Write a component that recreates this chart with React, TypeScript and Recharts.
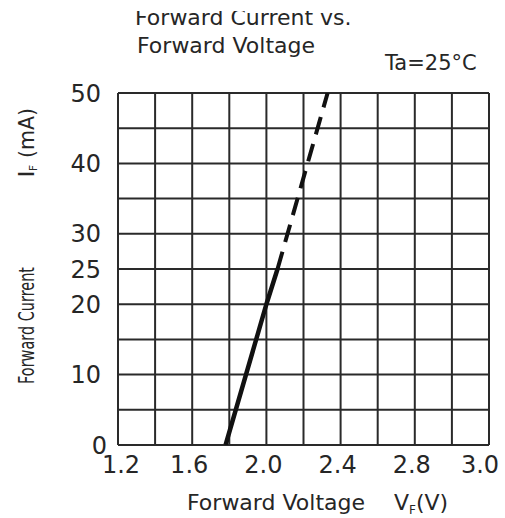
import React from "react";
import { LineChart, Line, XAxis, YAxis, CartesianGrid, Customized } from "recharts";

// Measured curve: solid part (rated range) and dashed extension
const solidVoltage = [1.78, 2.0, 2.06];
const solidCurrent = [0, 20, 25];
const dashedVoltage = [2.06, 2.33];
const dashedCurrent = [25, 50];

// Axis ticks and labels (the datasheet labels the last gridline "3.0")
const xTicks = [1.2, 1.6, 2.0, 2.4, 2.8, 3.2];
const xTickLabels = ["1.2", "1.6", "2.0", "2.4", "2.8", "3.0"];
const yTicks = [0, 10, 20, 25, 30, 40, 50];
const xGrid = [1.2, 1.4, 1.6, 1.8, 2.0, 2.2, 2.4, 2.6, 2.8, 3.0, 3.2];
const yGrid = [0, 5, 10, 15, 20, 25, 30, 35, 40, 45, 50];

const titleLine1 = "Forward Current vs.";
const titleLine2 = "Forward Voltage";
const condition = "Ta=25°C";

const solidData = solidVoltage.map((v, k) => ({ v, i: solidCurrent[k] }));
const dashedData = dashedVoltage.map((v, k) => ({ v, i: dashedCurrent[k] }));

const FONT = "DejaVu Sans";
const INK = "#262626";

const XTick = (props: any) => {
  const { x, y, index } = props;
  const last = xTicks.length - 1;
  const shift = index === 0 ? 3 : index === last ? -9 : -3;
  return (
    <text x={x + shift} y={y} dy="0.72em" textAnchor="middle" fontFamily={FONT} fontSize={24} fill={INK}>
      {xTickLabels[index]}
    </text>
  );
};

const YTick = (props: any) => {
  const { x, y, payload } = props;
  const shift = payload.value === 0 ? 6 : 0;
  return (
    <text x={x + shift} y={y} dy="0.36em" textAnchor="end" fontFamily={FONT} fontSize={24} fill={INK}>
      {String(payload.value)}
    </text>
  );
};

const Annotations = () => (
  <g fontFamily={FONT} fill={INK}>
    <text x={135} y={25} fontSize={22}>{titleLine1}</text>
    <rect x={0} y={0} width={505} height={11} fill="#ffffff" />
    <text x={137} y={53} fontSize={22}>{titleLine2}</text>
    <text x={385} y={70} fontSize={21}>{condition}</text>
    <text x={187} y={510} fontSize={22}>
      Forward Voltage
      <tspan x={394}>V</tspan>
      <tspan fontSize={12} dy={4}>F</tspan>
      <tspan fontSize={22} dy={-4}>(V)</tspan>
    </text>
    <g transform="translate(34,0) rotate(-90)">
      <text x={-384} y={0} fontSize={21} textLength={117} lengthAdjust="spacingAndGlyphs">Forward Current</text>
      <text x={-178} y={0} fontSize={21} textLength={8} lengthAdjust="spacingAndGlyphs">I</text>
      <text x={-171} y={3} fontSize={11} textLength={6} lengthAdjust="spacingAndGlyphs">F</text>
      <text x={-158} y={0} fontSize={21} textLength={50} lengthAdjust="spacingAndGlyphs">(mA)</text>
    </g>
  </g>
);

export default function App() {
  return (
    <div style={{ position: "absolute", left: 0, top: 0, width: 505, height: 518, background: "#fff" }}>
      <LineChart width={505} height={518} margin={{ top: 93, right: 16, left: 68, bottom: 33 }}>
        <CartesianGrid stroke="#2a2a2a" strokeWidth={2} horizontalValues={yGrid} verticalValues={xGrid} fill="none" />
        <XAxis
          type="number"
          dataKey="v"
          domain={[1.2, 3.2]}
          ticks={xTicks}
          interval={0}
          height={40}
          axisLine={false}
          tickLine={false}
          tickSize={0}
          tickMargin={11}
          tick={<XTick />}
          allowDataOverflow
        />
        <YAxis
          type="number"
          dataKey="i"
          domain={[0, 50]}
          ticks={yTicks}
          interval={0}
          width={50}
          axisLine={false}
          tickLine={false}
          tickSize={0}
          tickMargin={17}
          tick={<YTick />}
          allowDataOverflow
        />
        <Line data={solidData} dataKey="i" stroke="#111" strokeWidth={4.5} dot={false} isAnimationActive={false} strokeLinecap="butt" />
        <Line data={dashedData} dataKey="i" stroke="#111" strokeWidth={4} strokeDasharray="18 10" dot={false} isAnimationActive={false} strokeLinecap="butt" />
        <Customized component={Annotations} />
      </LineChart>
    </div>
  );
}
